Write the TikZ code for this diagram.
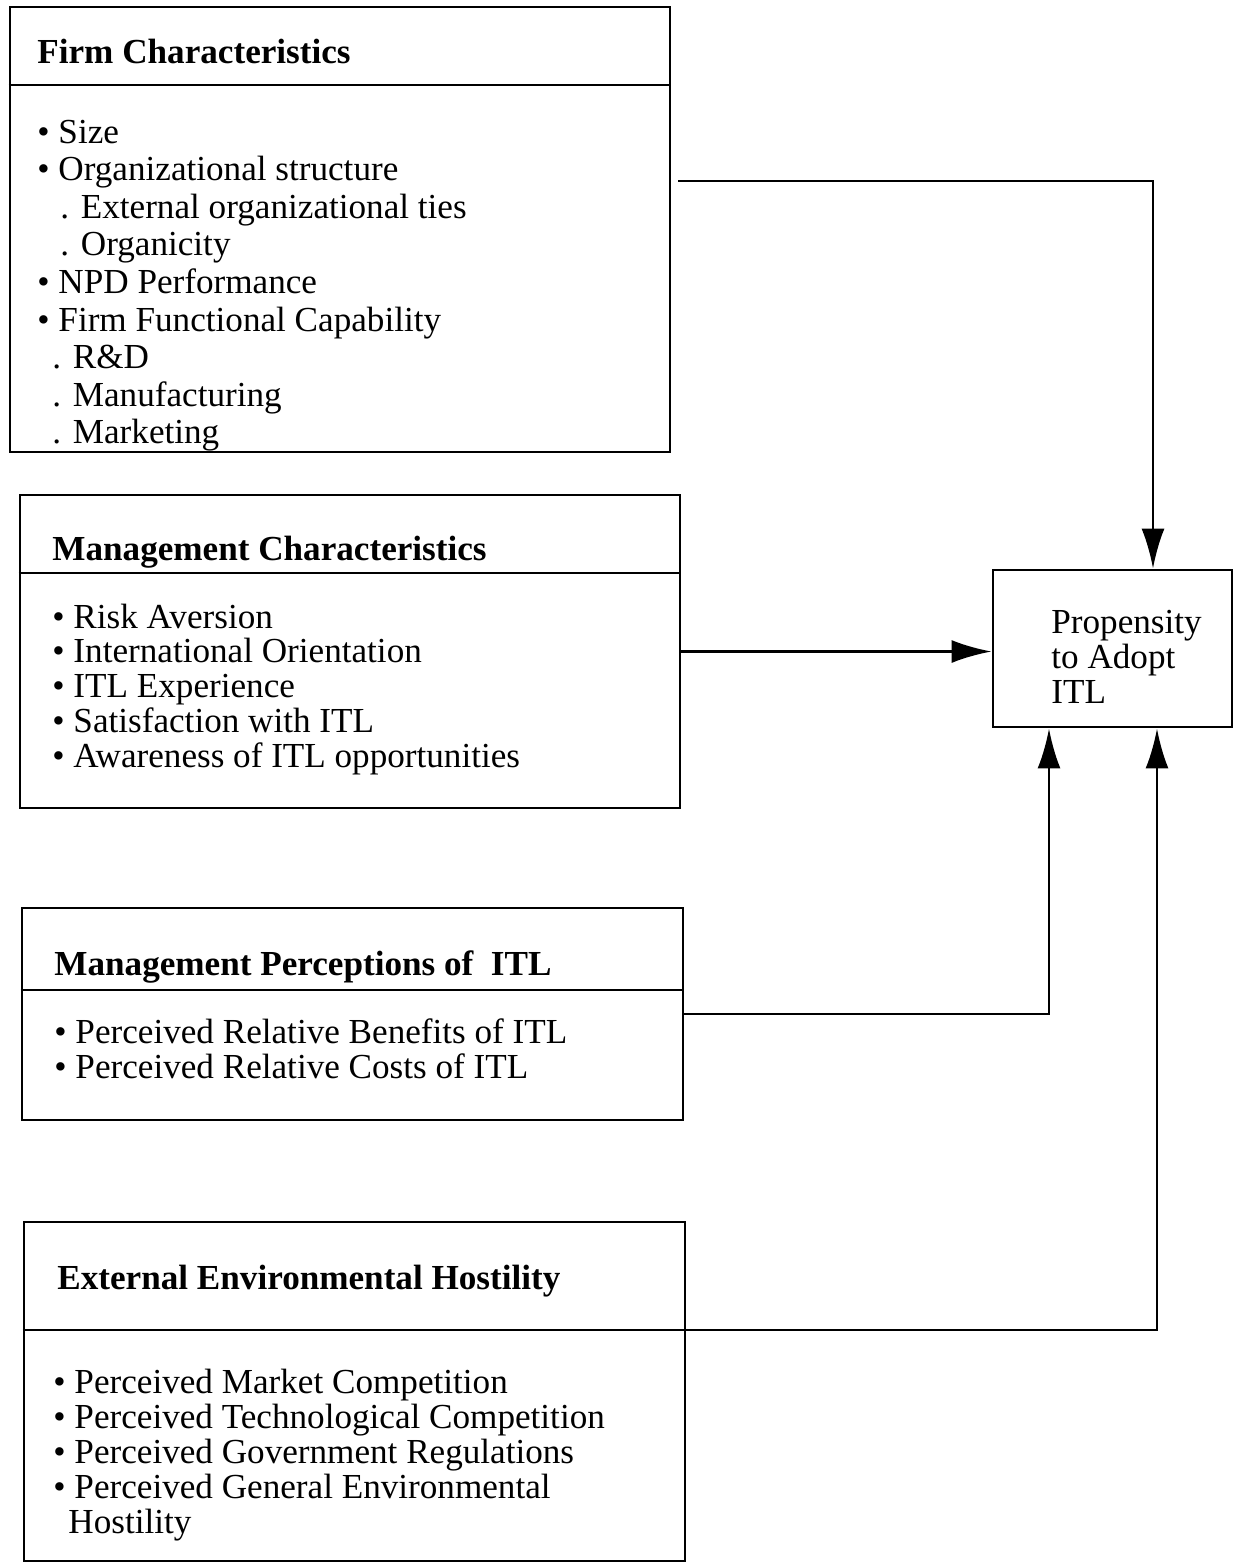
\documentclass[tikz,border=0pt]{standalone}
\usepackage{fontspec}
\setmainfont{Liberation Serif}
\usetikzlibrary{arrows.meta, positioning, calc, fit}

\begin{document}
\begin{tikzpicture}[
            x=0.02cm, y=-0.02cm, line width=1.6pt,
            % ---- styles ----
            box/.style = {draw, rectangle, inner sep=0pt},
            headtext/.style = {anchor=base west, inner sep=0pt, font=\bfseries\fontsize{20}{24}\selectfont},
            itemtext/.style = {anchor=base west, inner sep=0pt, font=\fontsize{20}{24}\selectfont},
            flow/.style = {-{Latex[length=0.8cm, width=0.46cm]}}
        ]
        \useasboundingbox (0,0) rectangle (1234,1563);

        % ===================== Firm Characteristics =====================
        \node[box, fit={(10,7) (670,452)}] (firm) {};
        \coordinate (firmsep) at (0,85);
        \draw (firm.west |- firmsep) -- (firm.east |- firmsep);
        \node[headtext] (firmhead) at (36,63) {Firm Characteristics};
        \foreach \t [count=\i from 0] in {{• Size}, {• Organizational structure},
            {\hspace{0.46cm}. External organizational ties}, {\hspace{0.46cm}. Organicity},
            {• NPD Performance}, {• Firm Functional Capability},
            {\hspace{0.3cm}. R\&D}, {\hspace{0.3cm}. Manufacturing}, {\hspace{0.3cm}. Marketing}}
            \node[itemtext] (firm-\i) at (36,{143+37.6*\i}) {\t};

        % ===================== Management Characteristics =====================
        \node[box, fit={(20,495) (680,808)}] (mgmt) {};
        \coordinate (mgmtsep) at (0,573);
        \draw (mgmt.west |- mgmtsep) -- (mgmt.east |- mgmtsep);
        \node[headtext] (mgmthead) at (51,560) {Management Characteristics};
        \foreach \t [count=\i from 0] in {{• Risk Aversion}, {• International Orientation},
            {• ITL Experience}, {• Satisfaction with ITL}, {• Awareness of ITL opportunities}}
            \node[itemtext] (mgmt-\i) at (51,{628+34.8*\i}) {\t};

        % ===================== Management Perceptions =====================
        \node[box, fit={(22,908) (683,1120)}] (percep) {};
        \coordinate (percepsep) at (0,990);
        \draw (percep.west |- percepsep) -- (percep.east |- percepsep);
        \node[headtext] (percephead) at (53,975) {Management Perceptions of \ ITL};
        \foreach \t [count=\i from 0] in {{• Perceived Relative Benefits of ITL},
            {• Perceived Relative Costs of ITL}}
            \node[itemtext] (percep-\i) at (53,{1043+35*\i}) {\t};

        % ===================== External Environmental Hostility =====================
        \node[box, fit={(24,1222) (685,1561)}] (ext) {};
        \coordinate (extsep) at (0,1330);
        \draw (ext.west |- extsep) -- (ext.east |- extsep);
        \node[headtext] (exthead) at (56,1289) {External Environmental Hostility};
        \foreach \t [count=\i from 0] in {{• Perceived Market Competition},
            {• Perceived Technological Competition}, {• Perceived Government Regulations},
            {• Perceived General Environmental}, {\hspace{0.3cm}Hostility}}
            \node[itemtext] (ext-\i) at (52,{1393+35*\i}) {\t};

        % ===================== Propensity =====================
        \node[box, fit={(993,570) (1232,727)}] (prop) {};
        \foreach \t [count=\i from 0] in {Propensity, to Adopt, ITL}
            \node[itemtext] (prop-\i) at (1050,{633+35*\i}) {\t};

        % ---- connectors ----
        \draw[flow] ($(firm.east)+(7,-48.5)$) -| ($(prop.north)+(40.5,0)$);
        \draw[flow] (mgmt.east) -- (mgmt.east -| prop.west);
        \draw[flow] (percep.east) -| ($(prop.south)+(-63.5,0)$);
        \draw[flow] (extsep -| ext.east) -| ($(prop.south)+(44.5,0)$);

\end{tikzpicture}
\end{document}
